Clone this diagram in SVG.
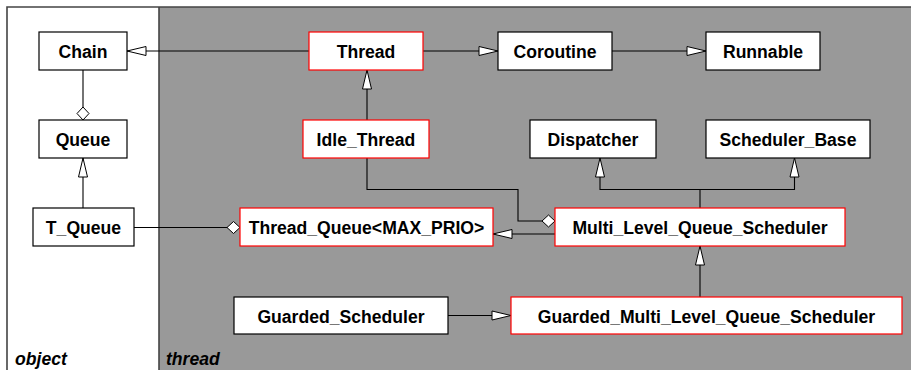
<svg xmlns="http://www.w3.org/2000/svg" width="911" height="370" viewBox="0 0 911 370">
  <style>
    .box { fill: #ffffff; stroke: #000000; stroke-width: 1.2; }
    .red { fill: #ffffff; stroke: #ff0000; stroke-width: 1.2; }
    .lbl { font-family: "Liberation Sans", Arial, sans-serif; font-weight: bold; font-size: 17.6px; text-anchor: middle; fill: #000000; }
    .pkg { font-family: "Liberation Sans", Arial, sans-serif; font-weight: bold; font-style: italic; font-size: 17.6px; fill: #000000; }
    .edge { fill: none; stroke: #000000; stroke-width: 1.1; }
    .gen { marker-end: url(#tri); }
    .agg { marker-end: url(#dia); }
  </style>
  <defs>
    <marker id="tri" markerUnits="userSpaceOnUse" markerWidth="21" markerHeight="11" viewBox="0 0 21 11" refX="20" refY="5.5" orient="auto">
      <path d="M20,5.5 L1,1 L1,10 Z" fill="#ffffff" stroke="#000000" stroke-width="1"/>
    </marker>
    <marker id="dia" markerUnits="userSpaceOnUse" markerWidth="15" markerHeight="15" viewBox="0 0 15 15" refX="14" refY="7.5" orient="auto">
      <path d="M14,7.5 L7.5,1.5 L1,7.5 L7.5,13.5 Z" fill="#ffffff" stroke="#000000" stroke-width="1"/>
    </marker>
  </defs>

  <!-- package areas -->
  <g id="packages">
    <rect x="7" y="7" width="152" height="370" fill="#ffffff"/>
    <rect x="159" y="7" width="760" height="370" fill="#999999"/>
    <path d="M7,380 L7,7 L911,7" fill="none" stroke="#444444" stroke-width="1.6"/>
    <line x1="159" y1="7" x2="159" y2="370" stroke="#444444" stroke-width="1.6"/>
    <text class="pkg" x="15" y="365">object</text>
    <text class="pkg" x="166" y="365">thread</text>
  </g>

  <!-- relationships -->
  <g id="connectors">
    <path class="edge gen" d="M309,51 L127,51"/>
    <path class="edge gen" d="M423,51 L498,51"/>
    <path class="edge gen" d="M612,51 L706,51"/>
    <path class="edge agg" d="M83,70 L83,120"/>
    <path class="edge gen" d="M83,208 L83,158"/>
    <path class="edge agg" d="M134,227.5 L240,227.5"/>
    <path class="edge gen" d="M367,120 L367,70"/>
    <path class="edge agg" d="M367,158 L367,189.5 L518,189.5 L518,221 L555,221"/>
    <path class="edge gen" d="M555,234 L493,234"/>
    <path class="edge gen" d="M700,208 L700,189.5 L600,189.5 L600,158"/>
    <path class="edge gen" d="M700,189.5 L794.5,189.5 L794.5,158"/>
    <path class="edge gen" d="M700,297 L700,246"/>
    <path class="edge gen" d="M448,315.5 L511,315.5"/>
  </g>

  <g id="Chain"><rect class="box" x="39" y="32" width="88" height="38"/><text class="lbl" x="83" y="58">Chain</text></g>
  <g id="Queue"><rect class="box" x="39" y="120" width="88" height="38"/><text class="lbl" x="83" y="146">Queue</text></g>
  <g id="T_Queue"><rect class="box" x="33" y="208" width="101" height="38"/><text class="lbl" x="83.5" y="234">T_Queue</text></g>
  <g id="Thread"><rect class="red" x="309" y="32" width="114" height="38"/><text class="lbl" x="366" y="58">Thread</text></g>
  <g id="Coroutine"><rect class="box" x="498" y="32" width="114" height="38"/><text class="lbl" x="555" y="58">Coroutine</text></g>
  <g id="Runnable"><rect class="box" x="706" y="32" width="114" height="38"/><text class="lbl" x="763" y="58">Runnable</text></g>
  <g id="Idle_Thread"><rect class="red" x="303" y="120" width="126" height="38"/><text class="lbl" x="366" y="146">Idle_Thread</text></g>
  <g id="Dispatcher"><rect class="box" x="530" y="120" width="126" height="38"/><text class="lbl" x="593" y="146">Dispatcher</text></g>
  <g id="Scheduler_Base"><rect class="box" x="706" y="120" width="164" height="38"/><text class="lbl" x="788" y="146">Scheduler_Base</text></g>
  <g id="Thread_Queue"><rect class="red" x="240" y="208" width="253" height="38"/><text class="lbl" x="366.5" y="234">Thread_Queue&lt;MAX_PRIO&gt;</text></g>
  <g id="Multi_Level_Queue_Scheduler"><rect class="red" x="555" y="208" width="290" height="38"/><text class="lbl" x="700" y="234">Multi_Level_Queue_Scheduler</text></g>
  <g id="Guarded_Scheduler"><rect class="box" x="234" y="297" width="214" height="37"/><text class="lbl" x="341" y="322.5">Guarded_Scheduler</text></g>
  <g id="Guarded_Multi_Level_Queue_Scheduler"><rect class="red" x="511" y="297" width="391" height="37"/><text class="lbl" x="706.5" y="322.5">Guarded_Multi_Level_Queue_Scheduler</text></g>
</svg>
